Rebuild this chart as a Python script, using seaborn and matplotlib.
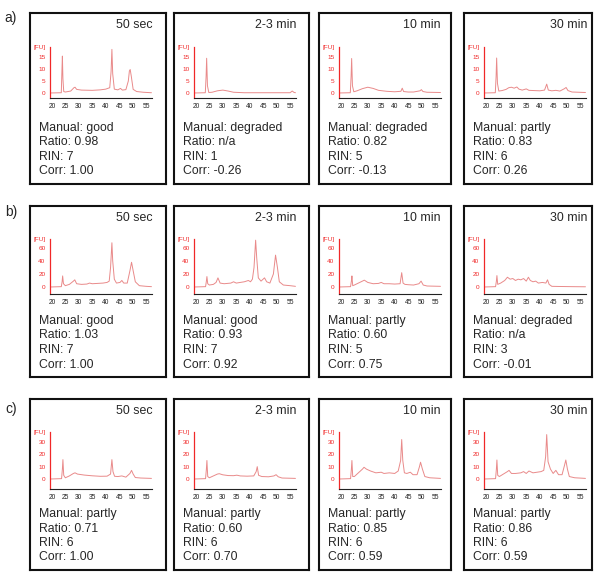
import matplotlib
matplotlib.use("Agg")
import matplotlib.pyplot as plt
import seaborn as sns

# sampling times (columns) and sample rows
times = ["50 sec", "2-3 min", "10 min", "30 min"]
row_labels = ["a)", "b)", "c)"]

# quality scores per row
manual_a = ["good", "degraded", "degraded", "partly"]
ratio_a = ["0.98", "n/a", "0.82", "0.83"]
rin_a = ["7", "1", "5", "6"]
corr_a = ["1.00", "-0.26", "-0.13", "0.26"]

manual_b = ["good", "good", "partly", "degraded"]
ratio_b = ["1.03", "0.93", "0.60", "n/a"]
rin_b = ["7", "7", "5", "3"]
corr_b = ["1.00", "0.92", "0.75", "-0.01"]

manual_c = ["partly", "partly", "partly", "partly"]
ratio_c = ["0.71", "0.60", "0.85", "0.86"]
rin_c = ["6", "6", "6", "6"]
corr_c = ["1.00", "0.70", "0.59", "0.59"]

# y ticks of the electropherograms per row
yticks_a = [0, 5, 10, 15]
yticks_b = [0, 20, 40, 60]
yticks_c = [0, 10, 20, 30]
xticks = [20, 25, 30, 35, 40, 45, 50, 55]

# electropherogram traces: time [s] and fluorescence [FU]
a1_t = [19.5, 23.5, 23.7, 23.9, 24.1, 24.4, 25, 27, 28.2, 28.6, 29.2, 31, 35, 38, 40, 41.5, 42.0, 42.3, 42.6, 43.2, 44.5, 45.5, 46.2, 47.5, 48.4, 48.8, 49.1, 49.5, 50.2, 51.5, 54, 57]
a1_v = [0, 0.1, 8, 15.4, 6, 0.6, 0.4, 0.8, 2.2, 2.4, 1.5, 1.2, 1.1, 1.3, 1.6, 2.2, 9, 18.2, 8, 1.6, 1.3, 1.9, 1.2, 1.4, 5, 9.2, 9.8, 7, 1.5, 0.6, 0.3, 0.1]
a2_t = [19.5, 23.5, 23.8, 24.0, 24.3, 24.8, 26, 28, 30, 32, 34, 38, 45, 50, 55, 55.8, 56.5, 57]
a2_v = [0, 0.1, 7, 14.5, 3, 0.2, 0.3, 0.9, 1.2, 0.8, 0.3, 0.1, 0.1, 0.1, 0.1, 0.8, 0.2, 0.1]
a3_t = [19.5, 23.5, 23.8, 24.0, 24.3, 24.8, 26, 28, 30, 32, 34, 37, 40, 42.3, 42.8, 43.3, 45, 47, 49.4, 49.9, 50.5, 52, 57]
a3_v = [0, 0.1, 7, 14.4, 3, 0.5, 0.9, 1.8, 2.4, 1.9, 1.1, 0.7, 0.5, 0.7, 2.0, 0.6, 0.4, 0.4, 0.9, 1.4, 0.6, 0.3, 0.2]
a4_t = [19.5, 23.5, 23.8, 24.0, 24.3, 24.8, 26, 27.5, 28.5, 29.5, 30.5, 31.5, 32.3, 33.5, 35, 36, 38, 40, 41.8, 42.6, 43.2, 44.5, 46, 47.5, 49.2, 49.8, 50.5, 52, 57]
a4_v = [0, 0.1, 7, 14.6, 4, 0.8, 1, 1.5, 2.2, 2.4, 2.0, 2.5, 1.6, 1.2, 1.7, 1.1, 1.0, 0.9, 1.2, 3.7, 1.2, 0.9, 1.1, 0.8, 1.8, 2.3, 1.0, 0.4, 0.2]

b1_t = [19.5, 23.5, 23.8, 24.0, 24.3, 25, 26.5, 28, 28.5, 29.2, 31, 33, 34, 35, 37, 39, 40.5, 41.3, 41.8, 42.3, 42.6, 43.2, 44, 45.3, 46, 46.7, 48, 49.0, 49.6, 50.2, 51, 52.5, 55, 57]
b1_v = [0, 0.5, 8, 17, 5, 2, 4, 9, 11, 5, 4, 4.5, 6, 5, 5.5, 6, 7, 9, 30, 68, 40, 12, 6, 7, 10, 6, 6, 25, 38, 25, 8, 2, 1, 0.5]
b2_t = [19.5, 23.6, 23.9, 24.1, 24.4, 25, 26.5, 27.5, 28.2, 29, 30.5, 33, 34, 35, 36.5, 38, 39.5, 40.3, 41, 41.6, 42.2, 42.6, 43.2, 44.2, 45.5, 46.3, 47.5, 48.8, 49.6, 50.3, 51, 52.5, 55, 57]
b2_v = [0, 0.5, 9, 16, 5, 3, 4, 7, 14, 6, 5, 6, 8, 6, 7, 8, 10, 8, 12, 30, 72, 45, 14, 9, 14, 8, 6, 20, 49, 30, 8, 3, 2, 1]
b3_t = [19.5, 23.6, 23.9, 24.1, 24.4, 25, 26.5, 28, 28.7, 30, 32, 34, 35, 36, 38, 40, 42, 42.6, 43.1, 43.8, 45, 47, 49, 49.8, 50.6, 52, 57]
b3_v = [0, 0.5, 9, 17, 2, 3, 6, 9, 10.5, 7, 5, 5.5, 7, 5, 5, 4.5, 5, 22, 6, 4, 3.5, 3, 5, 9, 3, 1.5, 1]
b4_t = [19.5, 23.6, 23.9, 24.1, 24.4, 25.5, 27, 28, 29, 30, 31, 32, 33, 34, 35, 35.8, 36.5, 37.5, 38.5, 39.5, 41, 42.3, 42.9, 43.5, 44.5, 47, 52, 57]
b4_v = [0, 0.5, 9, 17.5, 4, 6, 10, 15, 12, 13, 10, 12, 11, 13, 9, 15, 10, 8, 9, 6, 7, 6, 11, 4, 1, 0.8, 0.5, 0.3]

c1_t = [19.5, 23.6, 23.9, 24.1, 24.4, 25, 26.5, 28, 28.6, 29.5, 32, 35, 38, 40.5, 41.8, 42.3, 42.7, 43.3, 44.5, 46, 47.5, 49, 49.6, 50.2, 51, 53, 57]
c1_v = [0, 0.3, 8, 15.7, 3, 1, 2.5, 4.5, 5, 4, 3.2, 2.6, 2.2, 2.3, 4, 15.7, 6, 2.2, 2, 2.5, 1.5, 4.5, 7, 4, 1.2, 0.8, 0.5]
c2_t = [19.5, 23.6, 23.9, 24.1, 24.4, 25, 26.5, 28, 28.7, 30, 32, 34, 35.2, 36.5, 39, 41.5, 42.4, 42.8, 43.3, 44.5, 47, 49, 49.8, 50.6, 52, 57]
c2_v = [0, 0.3, 8, 15, 2, 1, 2.5, 4, 4.3, 3.4, 2.8, 2.7, 3.1, 2.5, 2.3, 2.5, 6, 10, 3, 2, 1.8, 2.5, 3.5, 1.8, 0.8, 0.5]
c3_t = [19.5, 23.6, 23.9, 24.1, 24.4, 25, 26.5, 28, 28.6, 29.5, 31, 33, 35, 36, 38, 40, 41.3, 42.2, 42.6, 43.0, 43.6, 44.5, 45.8, 46.8, 48.3, 49.2, 49.6, 50.3, 51.2, 53, 57]
c3_v = [0, 0.3, 8, 15, 2, 2, 5, 8, 9.5, 8, 6.5, 5, 5.5, 4.5, 5, 4.5, 6.5, 15, 32, 15, 5, 4.5, 5.5, 3.5, 3.5, 10, 13.6, 8, 2, 1, 0.5]
c4_t = [19.5, 23.6, 23.9, 24.1, 24.4, 25, 26.5, 28, 28.6, 29.5, 31, 33, 34, 35, 36, 37.5, 39, 40.5, 41.5, 42.2, 42.6, 43.1, 44, 45, 46, 47, 48.3, 49.2, 49.7, 50.3, 51, 53, 57]
c4_v = [0, 0.3, 8, 15.4, 3, 2, 4, 6, 7, 4.5, 4.5, 5, 6, 4.5, 6.5, 5, 5.5, 6, 7, 18, 36, 14, 8, 4.5, 7, 3.5, 3.5, 11, 15.4, 8, 2, 1, 0.5]

rows = [
    (manual_a, ratio_a, rin_a, corr_a, yticks_a, [(a1_t, a1_v), (a2_t, a2_v), (a3_t, a3_v), (a4_t, a4_v)]),
    (manual_b, ratio_b, rin_b, corr_b, yticks_b, [(b1_t, b1_v), (b2_t, b2_v), (b3_t, b3_v), (b4_t, b4_v)]),
    (manual_c, ratio_c, rin_c, corr_c, yticks_c, [(c1_t, c1_v), (c2_t, c2_v), (c3_t, c3_v), (c4_t, c4_v)]),
]

sns.set_style("white")
plt.rcParams["font.family"] = ["Liberation Sans", "DejaVu Sans"]

W, H = 600, 583
fig = plt.figure(figsize=(W / 100, H / 100), dpi=100)


def fig_rect(x0, y0, x1, y1):
    # pixel box (top-left origin) -> figure fraction rect
    return [x0 / W, 1 - y1 / H, (x1 - x0) / W, (y1 - y0) / H]


box_left = [30, 174, 319, 464]
box_right = [166, 309, 451, 592]
title_right = [152, 296, 441, 587]
box_top = [13, 206, 399]
box_h = 171
label_y = [18, 212, 409]
# plot area inside each box: (top, bottom) offsets from box top, and y limits
plot_off = [(34, 85), (33, 88), (33, 90)]
ylims = [(-2.1, 19.2), (-10.8, 73.8), (-8.1, 38.1)]

trace_col = "#e98a8a"
axis_red = "#f02828"

for r, (manual, ratio, rin, corr, yt, traces) in enumerate(rows):
    top = box_top[r]
    fig.text(11 / W, 1 - label_y[r] / H, row_labels[r], fontsize=10, ha="center", va="center")
    for c in range(4):
        bx = fig.add_axes(fig_rect(box_left[c], top, box_right[c], top + box_h))
        bx.set_xlim(0, 1)
        bx.set_ylim(0, 1)
        bx.set_xticks([])
        bx.set_yticks([])
        for s in bx.spines.values():
            s.set_linewidth(1.5)
            s.set_color("#111111")
        bw = box_right[c] - box_left[c]
        bx.text((title_right[c] - box_left[c]) / bw, 1 - 12 / box_h, times[c],
                fontsize=8.9, ha="right", va="center")
        lines = ["Manual: " + manual[c], "Ratio: " + ratio[c], "RIN: " + rin[c], "Corr: " + corr[c]]
        for txt, off in zip(lines, [115, 129.5, 144, 158.5]):
            bx.text(9 / bw, 1 - off / box_h, txt, fontsize=8.8, ha="left", va="center")

        # electropherogram
        t0, t1 = plot_off[r]
        ax = fig.add_axes(fig_rect(box_left[c] + 20, top + t0, box_left[c] + 122, top + t1))
        ax.patch.set_alpha(0)
        tt, vv = traces[c]
        sns.lineplot(x=tt, y=vv, ax=ax, color=trace_col, linewidth=0.7, sort=False)
        ax.set_xlim(19.3, 57.2)
        ax.set_ylim(*ylims[r])
        ax.set_xticks(xticks)
        ax.set_xticklabels([str(x) for x in xticks], fontsize=4.8)
        ax.set_yticks(yt + [ylims[r][1]])
        ax.set_yticklabels([str(y) for y in yt] + ["[FU]"], fontsize=4.6)
        ax.tick_params(axis="x", length=2.4, width=0.6, pad=1.5, colors="#222222")
        ax.tick_params(axis="y", length=2.4, width=0.7, pad=0.8, colors=axis_red)
        ax.spines["top"].set_visible(False)
        ax.spines["right"].set_visible(False)
        ax.spines["left"].set_color(axis_red)
        ax.spines["left"].set_linewidth(0.9)
        ax.spines["bottom"].set_color("#222222")
        ax.spines["bottom"].set_linewidth(0.8)
        ax.grid(False)

fig.savefig("out.png", dpi=100)
